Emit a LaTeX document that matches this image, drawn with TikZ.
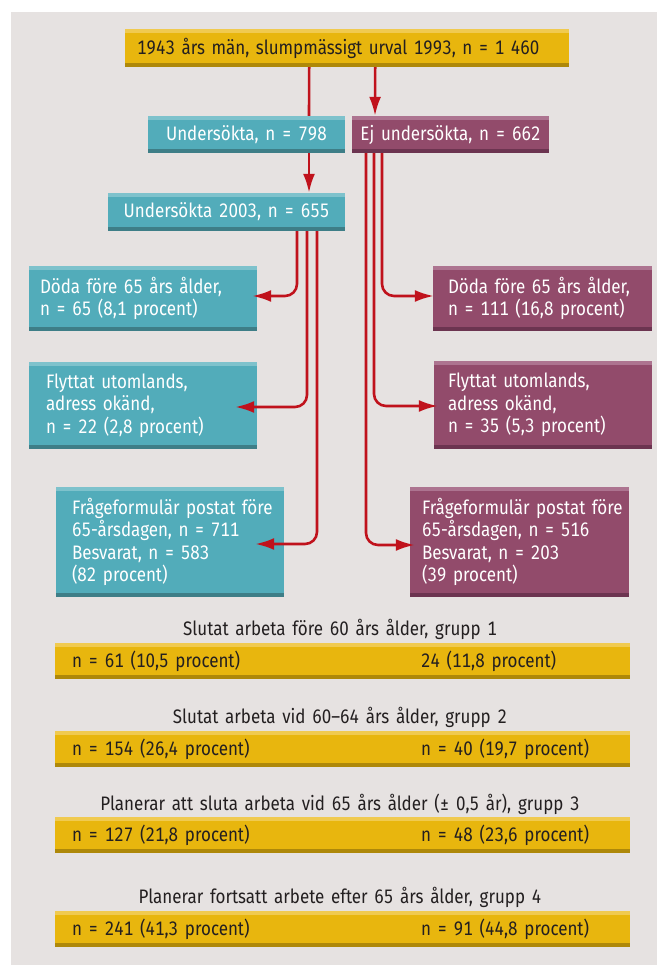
\documentclass[tikz,border=0pt]{standalone}
\usepackage{fontspec}
\setmainfont{Fira Sans}[FakeStretch=0.87, WordSpace=1.5, Numbers=Monospaced]
\usetikzlibrary{arrows.meta}

\definecolor{bggray}{HTML}{E6E2E1}
\definecolor{gold}{HTML}{E8B60E}
\definecolor{goldhi}{HTML}{F0CA50}
\definecolor{goldlo}{HTML}{AE8809}
\definecolor{teal0}{HTML}{52ACBA}
\definecolor{tealhi}{HTML}{7EC2CC}
\definecolor{teallo}{HTML}{3E7E87}
\definecolor{plum}{HTML}{924B6B}
\definecolor{plumhi}{HTML}{AD7490}
\definecolor{plumlo}{HTML}{6C3450}
\definecolor{arrowred}{HTML}{C0121C}
\definecolor{ink}{HTML}{231F20}

\tikzset{
  card/.style n args={3}{fill=#1, inner ysep=0pt, path picture={
      \fill[#2] (path picture bounding box.north west) rectangle ([yshift=-4pt]path picture bounding box.north east);
      \fill[#3] (path picture bounding box.south west) rectangle ([yshift=4pt]path picture bounding box.south east);}},
  goldbar/.style={card={gold}{goldhi}{goldlo}, text=ink},
  tealbox/.style={card={teal0}{tealhi}{teallo}, text=white},
  plumbox/.style={card={plum}{plumhi}{plumlo}, text=white},
  bartext/.style={anchor=west, text=ink, inner sep=0pt},
  link/.style={draw=arrowred, line width=2.6pt, rounded corners=12pt},
  arr/.style={link, -{Latex[length=19pt,width=12pt]}},
}

\begin{document}
\begin{tikzpicture}[x=1pt, y=-1pt, font=\fontsize{19.5}{22.3}\selectfont]
  \useasboundingbox (0,0) rectangle (657,965);
  \fill[bggray] (11,12) rectangle (657,965);

  \node[goldbar, anchor=west, text width=420pt, inner xsep=12pt, minimum height=38pt, align=left] (top) at (125,48) {1943 års män, slumpmässigt urval 1993, n = 1 460};
  \node[tealbox, minimum width=197pt, minimum height=37pt] (und) at (246.5,134.5) {Undersökta, n = 798};
  \node[plumbox, minimum width=197pt, minimum height=37pt] (ej) at (450.5,134.5) {Ej undersökta, n = 662};
  \node[tealbox, minimum width=237pt, minimum height=38pt] (und03) at (226.5,212) {Undersökta 2003, n = 655};

  \node[tealbox, text width=206pt, inner xsep=11pt, minimum height=65pt, align=left] (dodaL) at (143,298.5) {Döda före 65 års ålder,\\n = 65 (8,1 procent)};
  \node[tealbox, text width=194pt, inner xsep=17pt, minimum height=87pt, align=left] (flyL) at (143,405.5) {Flyttat utomlands,\\adress okänd,\\n = 22 (2,8 procent)};
  \node[tealbox, text width=196pt, inner xsep=16pt, minimum height=110pt, align=left] (fragL) at (170,542) {\mbox{Frågeformulär postat före}\\65-årsdagen, n = 711\\Besvarat, n = 583\\(82 procent)};

  \node[plumbox, text width=189pt, inner xsep=15pt, minimum height=65pt, align=left] (dodaR) at (542.5,298.5) {Döda före 65 års ålder,\\n = 111 (16,8 procent)};
  \node[plumbox, text width=190pt, inner xsep=14pt, minimum height=88pt, align=left] (flyR) at (543,405) {Flyttat utomlands,\\adress okänd,\\n = 35 (5,3 procent)};
  \node[plumbox, text width=195pt, inner xsep=12pt, minimum height=110pt, align=left] (fragR) at (519.5,542) {\mbox{Frågeformulär postat före}\\65-årsdagen, n = 516\\Besvarat, n = 203\\(39 procent)};

  \draw[link] ([xshift=-38pt]top.south) -- ([xshift=62.5pt]und.north);
  \draw[arr] ([xshift=62.5pt]und.south) -- ([xshift=82.5pt]und03.north);
  \draw[arr] ([xshift=28pt]top.south) -- ([xshift=-75.5pt]ej.north);

  \draw[arr] ([xshift=70.5pt]und03.south) |- ([xshift=-5pt,yshift=2.5pt]dodaL.east);
  \draw[arr] ([xshift=80.5pt]und03.south) |- ([xshift=-22pt,yshift=-1.5pt]flyL.east);
  \draw[arr] ([xshift=90.5pt]und03.south) |- ([xshift=-29pt,yshift=-2pt]fragL.east);
  \draw[arr] ([xshift=-68.5pt]ej.south) |- ([xshift=1pt,yshift=2.5pt]dodaR.west);
  \draw[arr] ([xshift=-76.5pt]ej.south) |- ([xshift=4pt,yshift=-1pt]flyR.west);
  \draw[arr] ([xshift=-84.5pt]ej.south) |- ([xshift=5pt,yshift=-3pt]fragR.west);

  \node[text=ink] (t1) at (340,629) {Slutat arbeta före 60 års ålder, grupp 1};
  \node[goldbar, minimum width=575pt, minimum height=36pt] (bar1) at (342.5,661) {};
  \node[bartext] (b1l) at ([xshift=17pt]bar1.west) {n = 61 (10,5 procent)};
  \node[bartext] (b1r) at ([xshift=366pt]bar1.west) {24 (11,8 procent)};

  \node[text=ink] (t2) at (340,717) {Slutat arbeta vid 60–64 års ålder, grupp 2};
  \node[goldbar, minimum width=575pt, minimum height=36pt] (bar2) at (342.5,749) {};
  \node[bartext] (b2l) at ([xshift=17pt]bar2.west) {n = 154 (26,4 procent)};
  \node[bartext] (b2r) at ([xshift=366pt]bar2.west) {n = 40 (19,7 procent)};

  \node[text=ink] (t3) at (340,804) {Planerar att sluta arbeta vid 65 års ålder (± 0,5 år), grupp 3};
  \node[goldbar, minimum width=575pt, minimum height=36pt] (bar3) at (342.5,835) {};
  \node[bartext] (b3l) at ([xshift=17pt]bar3.west) {n = 127 (21,8 procent)};
  \node[bartext] (b3r) at ([xshift=366pt]bar3.west) {n = 48 (23,6 procent)};

  \node[text=ink] (t4) at (340,897) {Planerar fortsatt arbete efter 65 års ålder, grupp 4};
  \node[goldbar, minimum width=575pt, minimum height=36pt] (bar4) at (342.5,929) {};
  \node[bartext] (b4l) at ([xshift=17pt]bar4.west) {n = 241 (41,3 procent)};
  \node[bartext] (b4r) at ([xshift=366pt]bar4.west) {n = 91 (44,8 procent)};
\end{tikzpicture}
\end{document}
